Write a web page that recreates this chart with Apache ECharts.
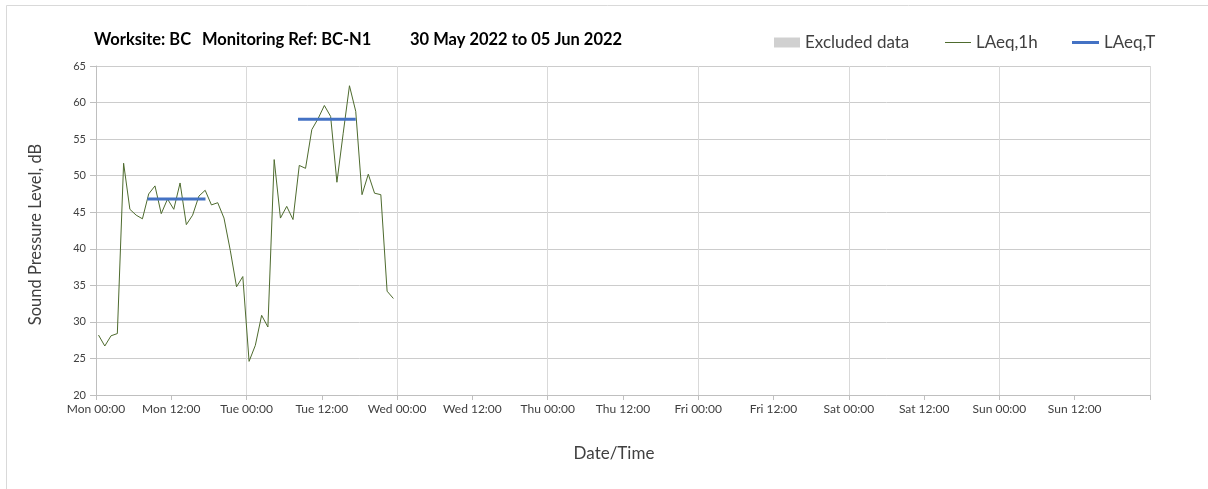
<!DOCTYPE html>
<html>
<head>
<meta charset="utf-8">
<script src="https://cdn.jsdelivr.net/npm/echarts@6/dist/echarts.min.js"></script>
<style>
html,body{margin:0;padding:0;background:#fff;}
#chart{width:1208px;height:489px;}
</style>
</head>
<body>
<div id="chart"></div>
<script>
// ---- data ----
var titleParts = ['Worksite: BC', 'Monitoring Ref: BC-N1', '30 May 2022 to 05 Jun 2022'];
var dayNames = ['Mon', 'Tue', 'Wed', 'Thu', 'Fri', 'Sat', 'Sun'];
// hours since Mon 00:00
var hourTimes = [0.4, 1.4, 2.4, 3.4, 4.4, 5.4, 6.4, 7.4, 8.4, 9.4, 10.4, 11.4,
  12.4, 13.4, 14.4, 15.4, 16.4, 17.4, 18.4, 19.4, 20.4, 21.4, 22.4, 23.4,
  24.4, 25.4, 26.4, 27.4, 28.4, 29.4, 30.4, 31.4, 32.4, 33.4, 34.4, 35.4,
  36.4, 37.4, 38.4, 39.4, 40.4, 41.4, 42.4, 43.4, 44.4, 45.4, 46.4, 47.4];
var laeq1h = [28.2, 26.7, 28.1, 28.4, 51.7, 45.4, 44.6, 44.1, 47.5, 48.6, 44.8, 46.8,
  45.4, 49.0, 43.3, 44.6, 47.2, 48.0, 46.0, 46.3, 44.2, 39.8, 34.8, 36.2,
  24.6, 26.8, 30.9, 29.3, 52.2, 44.2, 45.8, 44.0, 51.4, 51.0, 56.3, 57.8,
  59.6, 58.1, 49.1, 55.8, 62.3, 58.8, 47.4, 50.2, 47.6, 47.4, 34.2, 33.2];
var laeqTDay1Times = [8.2, 17.45];
var laeqTDay1Value = 46.8;
var laeqTDay2Times = [32.2, 41.4];
var laeqTDay2Value = 57.7;

// ---- build ----
var line1h = hourTimes.map(function (t, i) { return [t, laeq1h[i]]; });
var t1 = laeqTDay1Times.map(function (t) { return [t, laeqTDay1Value]; });
var t2 = laeqTDay2Times.map(function (t) { return [t, laeqTDay2Value]; });

var FONT = 'Lato';
var GREEN = '#4e6b2e', BLUE = '#4472c4', GREY = '#d0d0d0';
var legendText = { fontFamily: FONT, fontSize: 17, color: '#404040' };
var titleFont = { fontFamily: FONT, fontWeight: 'bold', fontSize: 16.5, color: '#000' };
var chart = echarts.init(document.getElementById('chart'));
chart.setOption({
  animation: false,
  backgroundColor: '#ffffff',
  textStyle: { fontFamily: FONT },
  graphic: [{
    type: 'rect', silent: true,
    shape: { x: 6.5, y: 5.5, width: 1300, height: 600 },
    style: { fill: 'none', stroke: '#d9d9d9', lineWidth: 1 }
  }],
  title: {
    text: '{a|' + titleParts[0] + '}{b|' + titleParts[1] + '}{c|' + titleParts[2] + '}',
    left: 89, top: 26,
    textStyle: {
      fontFamily: FONT, fontWeight: 'bold', fontSize: 16.5, color: '#000',
      rich: {
        a: Object.assign({ width: 108 }, titleFont),
        b: Object.assign({ width: 208 }, titleFont),
        c: Object.assign({}, titleFont)
      }
    }
  },
  legend: [{
    left: 769, top: 29, itemWidth: 26, itemHeight: 10, icon: 'rect',
    textStyle: legendText, data: ['Excluded data']
  }, {
    left: 940, top: 29, itemWidth: 26, itemHeight: 1, icon: 'rect',
    textStyle: legendText, data: ['LAeq,1h']
  }, {
    left: 1067, top: 29, itemWidth: 27, itemHeight: 3, icon: 'rect',
    textStyle: legendText, data: ['LAeq,T']
  }],
  grid: { left: 96, right: 58, top: 66, bottom: 94, containLabel: false },
  xAxis: [{
    type: 'value', min: 0, max: 168, interval: 12,
    name: 'Date/Time', nameLocation: 'middle', nameGap: 50,
    nameTextStyle: { fontFamily: FONT, fontSize: 17, color: '#404040', padding: [0, 18, 0, 0] },
    axisLine: { lineStyle: { color: '#bfbfbf' } },
    axisTick: { show: true, length: 5, lineStyle: { color: '#bfbfbf' } },
    axisLabel: {
      fontFamily: FONT, fontSize: 12, color: '#404040', margin: 8,
      formatter: function (v) {
        if (v >= 168) return '';
        var d = Math.floor(v / 24);
        return dayNames[d] + ' ' + (v % 24 === 0 ? '00:00' : '12:00');
      }
    },
    splitLine: { show: false }
  }, {
    type: 'value', min: 0, max: 168, interval: 24, position: 'bottom',
    axisLine: { show: false }, axisTick: { show: false }, axisLabel: { show: false },
    splitLine: { show: true, lineStyle: { color: '#d9d9d9', width: 1 } }
  }],
  yAxis: {
    type: 'value', min: 20, max: 65, interval: 5,
    name: 'Sound Pressure Level, dB', nameLocation: 'middle', nameGap: 52,
    nameTextStyle: { fontFamily: FONT, fontSize: 16.5, color: '#404040', padding: [0, 8, 0, 0] },
    axisLine: { show: true, lineStyle: { color: '#bfbfbf' } },
    axisTick: { show: true, length: 6, lineStyle: { color: '#bfbfbf' } },
    axisLabel: { fontFamily: FONT, fontSize: 11, color: '#404040', margin: 10 },
    splitLine: { show: true, lineStyle: { color: '#cccccc', width: 1 } }
  },
  series: [{
    name: 'Excluded data', type: 'bar', data: [],
    itemStyle: { color: GREY }
  }, {
    name: 'LAeq,1h', type: 'line', data: line1h, symbol: 'none',
    lineStyle: { color: GREEN, width: 1 }, itemStyle: { color: GREEN }
  }, {
    name: 'LAeq,T', type: 'line', data: t1, symbol: 'none',
    lineStyle: { color: BLUE, width: 3 }, itemStyle: { color: BLUE }
  }, {
    name: 'LAeq,T', type: 'line', data: t2, symbol: 'none',
    lineStyle: { color: BLUE, width: 3 }, itemStyle: { color: BLUE }
  }]
});
</script>
</body>
</html>
